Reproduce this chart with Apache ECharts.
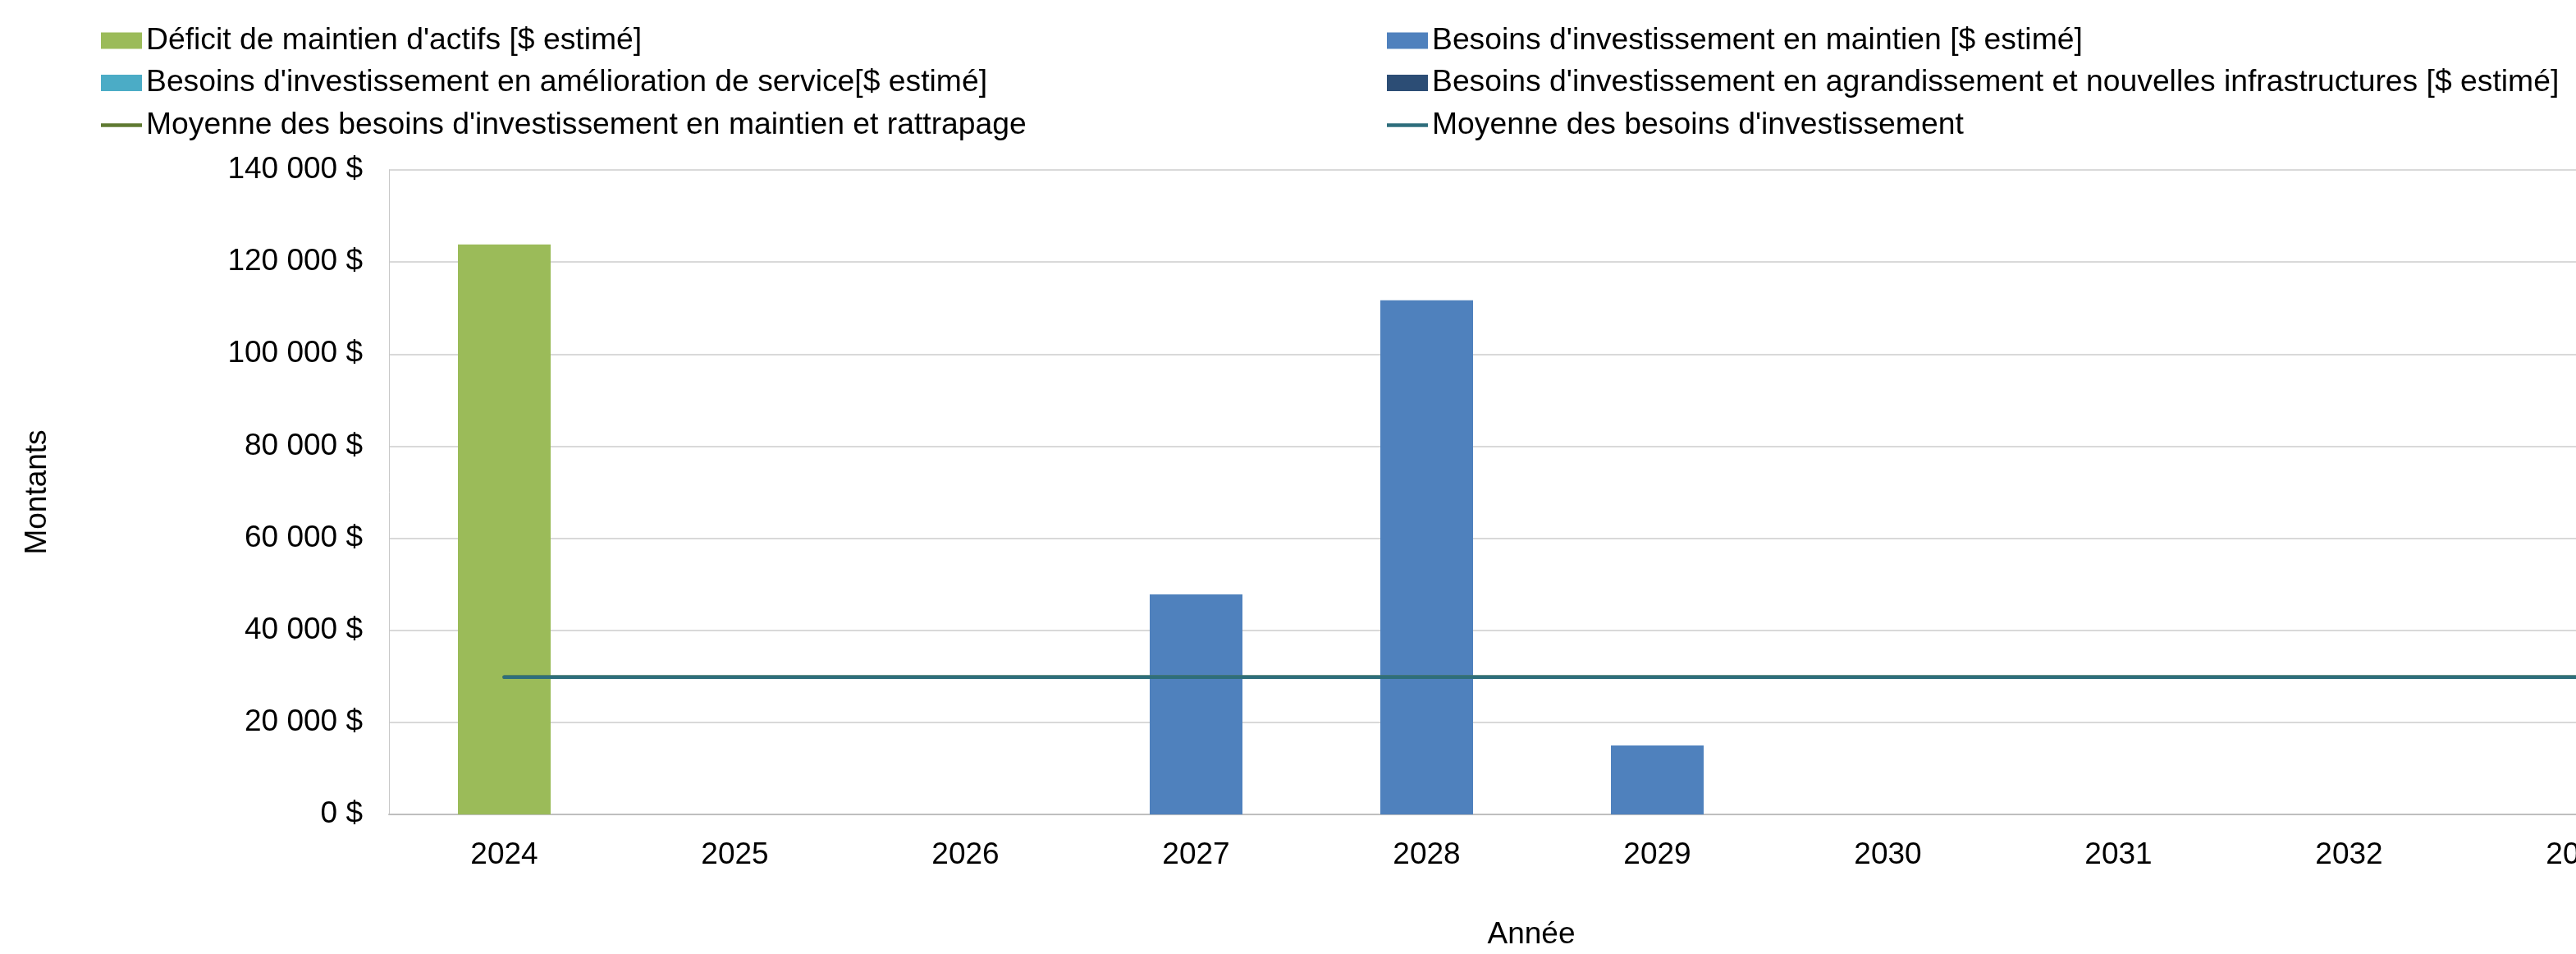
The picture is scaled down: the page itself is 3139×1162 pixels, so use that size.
<!DOCTYPE html>
<html>
<head>
<meta charset="utf-8">
<script src="https://cdn.jsdelivr.net/npm/echarts@6/dist/echarts.min.js"></script>
<style>
html,body{margin:0;padding:0;background:#fff;overflow:hidden;width:3139px;height:1162px;}
#c{width:3284px;height:1162px;}
</style>
</head>
<body>
<div id="c"></div>
<script>
const years = ['2024','2025','2026','2027','2028','2029','2030','2031','2032','2033'];
const deficit = [123800, 0, 0, 0, 0, 0, 0, 0, 0, 0];
const maintien = [0, 0, 0, 47800, 111700, 15000, 0, 0, 0, 0];
const amelioration = [0, 0, 0, 0, 0, 0, 0, 0, 0, 0];
const agrandissement = [0, 0, 0, 0, 0, 0, 0, 0, 0, 0];
const moyMaintienRattrapage = [29830, 29830, 29830, 29830, 29830, 29830, 29830, 29830, 29830, 29830];
const moyBesoins = [29830, 29830, 29830, 29830, 29830, 29830, 29830, 29830, 29830, 29830];
const yMin = 0, yMax = 140000, yInterval = 20000;

const names = [
  "Déficit de maintien d'actifs [$ estimé]",
  "Besoins d'investissement en maintien [$ estimé]",
  "Besoins d'investissement en amélioration de service[$ estimé]",
  "Besoins d'investissement en agrandissement et nouvelles infrastructures [$ estimé]",
  "Moyenne des besoins d'investissement en maintien et rattrapage",
  "Moyenne des besoins d'investissement"
];
const FONT = "'Liberation Sans', Arial, sans-serif";
const FS = 37;
const fmt = v => String(v).replace(/\B(?=(\d{3})+(?!\d))/g, ' ') + ' $';
const LINE_ICON = 'path://M0,0 L50,0 L50,4.5 L0,4.5 Z';

const chart = echarts.init(document.getElementById('c'), null, {width: 3284, height: 1162});
const legendCommon = {
  orient: 'vertical',
  top: 26,
  itemWidth: 50,
  itemHeight: 20,
  itemGap: 14.5,
  selectedMode: false,
  symbolKeepAspect: true,
  textStyle: {fontFamily: FONT, fontSize: 37.3, color: '#000', lineHeight: 37}
};
chart.setOption({
  animation: false,
  backgroundColor: '#fff',
  legend: [
    Object.assign({}, legendCommon, {left: 118, data: [
      {name: names[0], icon: 'rect'}, {name: names[2], icon: 'rect'}, {name: names[4], icon: LINE_ICON}
    ]}),
    Object.assign({}, legendCommon, {left: 1685, data: [
      {name: names[1], icon: 'rect'}, {name: names[3], icon: 'rect'}, {name: names[5], icon: LINE_ICON}
    ]})
  ],
  grid: {left: 474, top: 207, width: 2810, height: 794, containLabel: false},
  xAxis: {
    type: 'category',
    data: years,
    name: 'Année',
    nameLocation: 'middle',
    nameGap: 128,
    nameTextStyle: {fontFamily: FONT, fontSize: FS, color: '#000', lineHeight: 37, padding: [0, 26, 0, 0]},
    axisTick: {show: false},
    axisLine: {show: true, lineStyle: {color: '#bfbfbf', width: 2}},
    axisLabel: {fontFamily: FONT, fontSize: FS, color: '#000', margin: 31, lineHeight: 37}
  },
  yAxis: {
    type: 'value',
    min: yMin, max: yMax, interval: yInterval,
    name: 'Montants',
    nameLocation: 'middle',
    nameGap: 410,
    nameRotate: 90,
    nameTextStyle: {fontFamily: FONT, fontSize: FS, color: '#000', lineHeight: 37},
    axisLine: {show: true, lineStyle: {color: '#c8c8c8', width: 1}},
    axisTick: {show: false},
    axisLabel: {fontFamily: FONT, fontSize: FS, color: '#000', margin: 32, formatter: fmt},
    splitLine: {show: true, lineStyle: {color: '#d9d9d9', width: 2}}
  },
  series: [
    {name: names[0], type: 'bar', stack: 'a', barWidth: 113, data: deficit, itemStyle: {color: '#9BBB59'}},
    {name: names[1], type: 'bar', stack: 'a', barWidth: 113, data: maintien, itemStyle: {color: '#4F81BD'}},
    {name: names[2], type: 'bar', stack: 'a', barWidth: 113, data: amelioration, itemStyle: {color: '#4BACC6'}},
    {name: names[3], type: 'bar', stack: 'a', barWidth: 113, data: agrandissement, itemStyle: {color: '#2C4D75'}},
    {name: names[4], type: 'line', data: moyMaintienRattrapage, symbol: 'none', z: 3,
      lineStyle: {color: '#5F7A32', width: 4.5, cap: 'round'}, itemStyle: {color: '#5F7A32'}},
    {name: names[5], type: 'line', data: moyBesoins, symbol: 'none', z: 4,
      lineStyle: {color: '#2E6E7C', width: 4.5, cap: 'round'}, itemStyle: {color: '#2E6E7C'}}
  ]
});
</script>
</body>
</html>
